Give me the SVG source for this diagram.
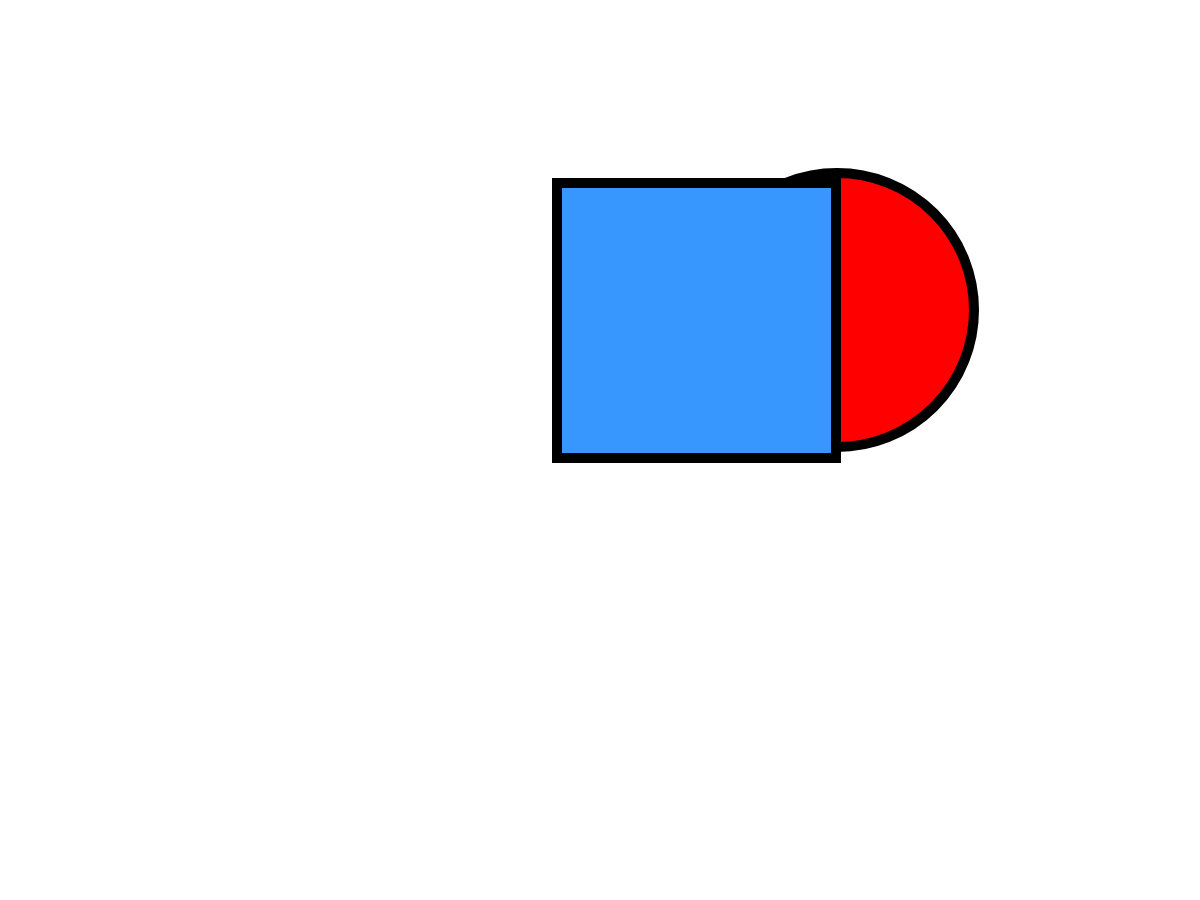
<svg xmlns="http://www.w3.org/2000/svg" width="1200" height="900" viewBox="0 0 1200 900">
  <style>
    .shape { stroke: #000000; stroke-width: 10; stroke-linejoin: miter; }
    .red { fill: #ff0000; }
    .blue { fill: #3797ff; }
  </style>
  <rect x="0" y="0" width="1200" height="900" fill="#ffffff"/>
  <g id="half-disc">
    <circle class="shape red" cx="837" cy="310" r="137"/>
  </g>
  <g id="square">
    <rect class="shape blue" x="557" y="183" width="279" height="275"/>
  </g>
  <g id="connectors"></g>
</svg>
